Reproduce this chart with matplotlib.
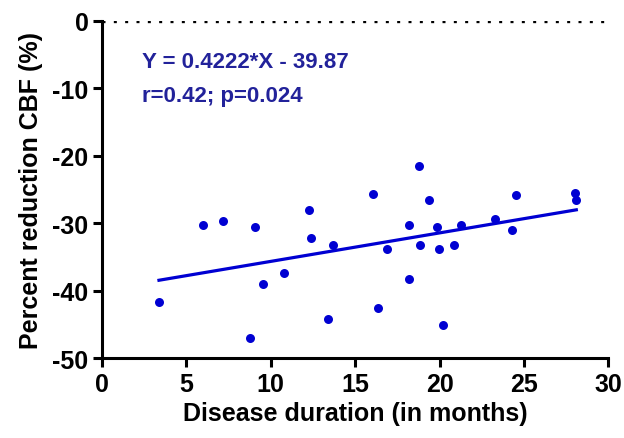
import matplotlib
matplotlib.use("Agg")
import matplotlib.pyplot as plt
import numpy as np

# Datos
duracion = [3.39, 5.98, 7.16, 8.78, 9.08, 9.57, 10.79, 12.29, 12.37, 13.38,
            13.68, 16.04, 16.36, 16.87, 18.19, 18.19, 18.79, 18.87, 19.38, 19.87,
            19.99, 20.19, 20.88, 21.29, 23.31, 24.29, 24.51, 28.0, 28.1]
reduccion = [-41.6, -30.2, -29.6, -47.0, -30.6, -39.0, -37.4, -28.0, -32.2, -44.2,
             -33.2, -25.6, -42.5, -33.8, -30.3, -38.2, -21.5, -33.2, -26.6, -30.6,
             -33.8, -45.0, -33.2, -30.2, -29.3, -31.0, -25.8, -25.5, -26.5]

pendiente = 0.4222
intercepto = -39.87
texto_ecuacion = "Y = 0.4222*X - 39.87"
texto_stats = "r=0.42; p=0.024"

x_ticks = [0, 5, 10, 15, 20, 25, 30]
y_ticks = [0, -10, -20, -30, -40, -50]

azul = "#0000d2"
azul_texto = "#22229a"

plt.rcParams['font.family'] = ['Liberation Sans', 'DejaVu Sans']
plt.rcParams['font.weight'] = 'bold'
plt.rcParams['axes.unicode_minus'] = False

fig = plt.figure(figsize=(6.24, 4.39), dpi=100)
ax = fig.add_axes([0.163, 0.1815, 0.812, 0.769])

# puntos
ax.scatter(duracion, reduccion, s=42, color=azul, zorder=3, linewidths=0)

# recta de regresion
xr = np.array([min(duracion), max(duracion)])
ax.plot(xr, pendiente * xr + intercepto, color=azul, lw=2.3, zorder=2)

# linea punteada en cero
ax.axhline(0, color='black', lw=2.4, linestyle=(0, (0.9, 2.5)), zorder=1)

ax.text(2.37, -6.1, texto_ecuacion, color=azul_texto, fontsize=16,
        fontweight='bold', va='center', ha='left')
ax.text(2.37, -11.1, texto_stats, color=azul_texto, fontsize=16,
        fontweight='bold', va='center', ha='left')

ax.set_xlim(0, 30)
ax.set_ylim(-50, 0)
ax.set_xticks(x_ticks)
ax.set_yticks(y_ticks)
ax.tick_params(axis='both', labelsize=18, width=2.2, length=6.5, direction='out', pad=3)
for lab in ax.get_xticklabels() + ax.get_yticklabels():
    lab.set_fontweight('bold')

ax.spines['top'].set_visible(False)
ax.spines['right'].set_visible(False)
ax.spines['left'].set_linewidth(2.2)
ax.spines['bottom'].set_linewidth(2.2)

ax.set_xlabel('Disease duration (in months)', fontsize=18, fontweight='bold', labelpad=4)
ax.set_ylabel('Percent reduction CBF (%)', fontsize=18, fontweight='bold', labelpad=7)

fig.savefig('out.png', dpi=100)
